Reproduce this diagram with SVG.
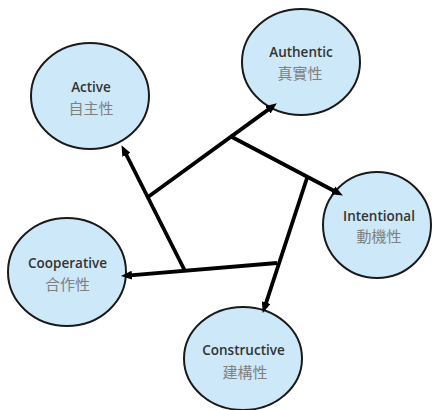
<svg xmlns="http://www.w3.org/2000/svg" width="434" height="410" viewBox="0 0 434 410">
<style>
.node ellipse{fill:#cde8f8;stroke:#1a1a1a;stroke-width:2}
.en{font-family:"Open Sans",Lato,sans-serif;font-weight:600;font-size:13.5px;fill:#333;text-anchor:middle}
.zh{font-family:"Noto Sans CJK TC","Noto Sans CJK SC",sans-serif;font-size:15px;fill:#808080;text-anchor:middle}
#connectors line{stroke:#000;stroke-width:3.8;fill:none;marker-end:url(#arr)}
</style>
<defs>
<marker id="arr" viewBox="0 0 11 9" refX="5" refY="4.5" markerWidth="11" markerHeight="9" markerUnits="userSpaceOnUse" orient="auto">
<path d="M0,0 L11,4.5 L0,9 z" fill="#000"/>
</marker>
</defs>
<rect width="434" height="410" fill="#fff"/>
<g id="active" class="node">
<ellipse cx="90" cy="96" rx="59" ry="53"/>
<text class="en" x="91" y="92">Active</text>
<text class="zh" x="91" y="114">自主性</text>
</g>
<g id="authentic" class="node">
<ellipse cx="301" cy="62" rx="59" ry="53"/>
<text class="en" x="301" y="57">Authentic</text>
<text class="zh" x="300" y="79">真實性</text>
</g>
<g id="intentional" class="node">
<ellipse cx="377" cy="225" rx="54" ry="53"/>
<text class="en" x="379" y="221">Intentional</text>
<text class="zh" x="379" y="242">動機性</text>
</g>
<g id="cooperative" class="node">
<ellipse cx="67" cy="272" rx="59" ry="54"/>
<text class="en" x="67.5" y="268">Cooperative</text>
<text class="zh" x="67.5" y="290">合作性</text>
</g>
<g id="constructive" class="node">
<ellipse cx="243" cy="358.5" rx="59" ry="51.5"/>
<text class="en" x="243.5" y="355">Constructive</text>
<text class="zh" x="245" y="378">建構性</text>
</g>
<g id="connectors">
<line x1="185" y1="271" x2="124.2" y2="150.5"/>
<line x1="148" y1="197" x2="272" y2="106.9"/>
<line x1="230" y1="136" x2="337.6" y2="192.7"/>
<line x1="307" y1="178" x2="264.6" y2="307.3"/>
<line x1="277" y1="263" x2="127" y2="275.6"/>
</g>
</svg>
